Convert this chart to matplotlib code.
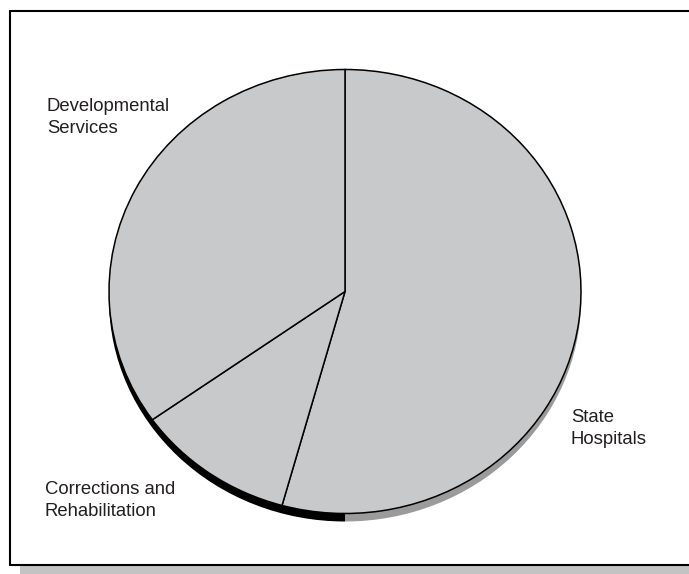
"""Mental health spending pie with a drop-shadowed frame."""

import matplotlib.pyplot as plt
from matplotlib.patches import Rectangle, Wedge

# slice shares, clockwise from 12 o'clock
categories = ["State\nHospitals", "Corrections and\nRehabilitation", "Developmental\nServices"]
shares = [54.3, 10.9, 34.8]

W, H = 689, 574
CX, CY = 345, 291.5      # pie centre, px from top-left
RX, RY = 236, 222        # ellipse radii, px

FACE = "#c8c9cb"
TEXT = "#231f20"

fig = plt.figure(figsize=(W / 100, H / 100), dpi=100)
fig.patch.set_facecolor("white")

# pixel-space axes for frame and labels
bg = fig.add_axes([0, 0, 1, 1])
bg.set_xlim(0, W)
bg.set_ylim(H, 0)
bg.axis("off")

bg.add_patch(Rectangle((20, 21), 720, 554, facecolor="#c3c3c3", edgecolor="none", zorder=0))
bg.add_patch(Rectangle((10, 11), 720, 554, facecolor="white", edgecolor="black", linewidth=1.5, zorder=1))

# pie axes: unit circle maps onto the ellipse
ax = fig.add_axes([0, 0, 1, 1])
ax.patch.set_alpha(0)

off = 8 / RY
ax.add_patch(Wedge((0, -off), 1, 90, 270, facecolor="black", edgecolor="none", zorder=1))
ax.add_patch(Wedge((0, -off), 1, 270, 450, facecolor="#9b9b9b", edgecolor="none", zorder=1))

wedges, _ = ax.pie(
    shares,
    startangle=90,
    counterclock=False,
    colors=[FACE] * len(shares),
    wedgeprops=dict(edgecolor="black", linewidth=1.1, zorder=2),
)

ax.set_aspect("auto")
ax.set_xlim(-CX / RX, (W - CX) / RX)
ax.set_ylim(-(H - CY) / RY, CY / RY)
ax.axis("off")

label_pos = [(571, 409), (45, 481), (47, 98)]
for text, (x, y) in zip(categories, label_pos):
    bg.text(x, y, text, ha="left", va="top", fontsize=13.3,
            family="Liberation Sans", color=TEXT, linespacing=1.38, zorder=3)

plt.savefig("out.png", dpi=100, facecolor="white")
plt.close()
